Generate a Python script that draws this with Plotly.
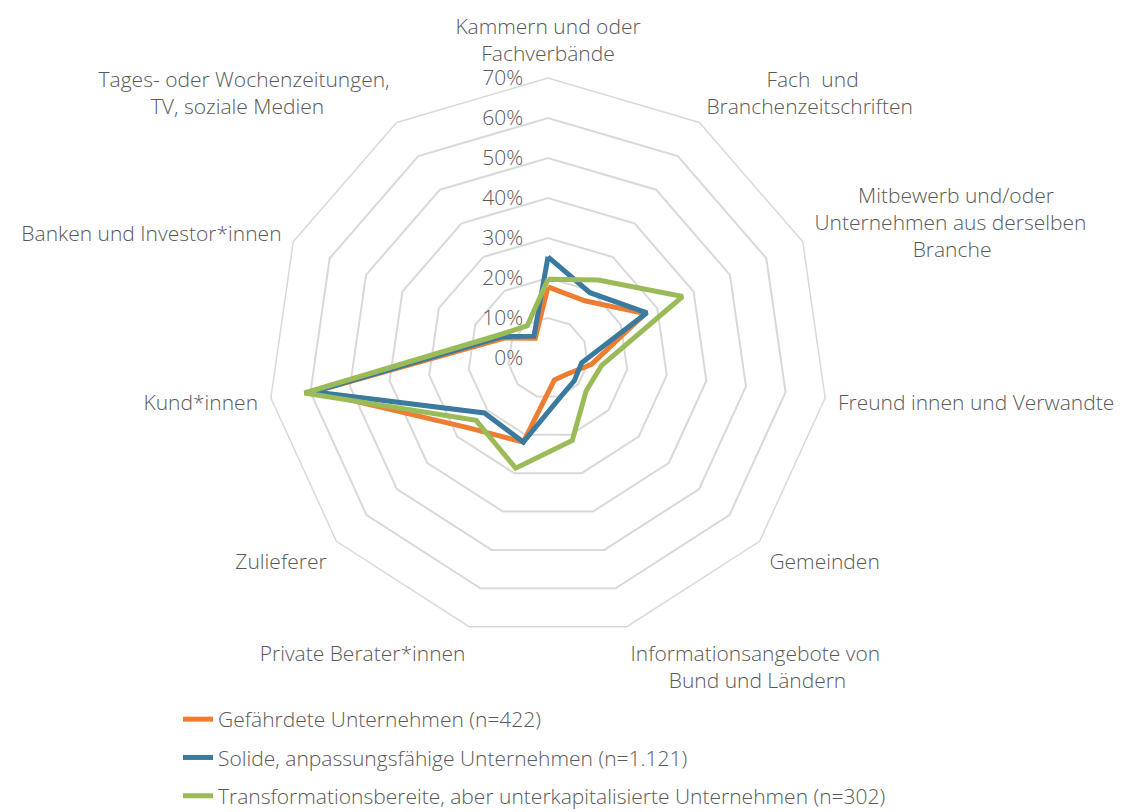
import plotly.graph_objects as go

NB = "\u00a0"  # non-breaking space used to centre the shorter line of a label

categories = [
    "Kammern und oder<br>Fachverbände",
    NB * 11 + "Fach  und<br>Branchenzeitschriften",
    NB * 8 + "Mitbewerb und/oder<br>Unternehmen aus derselben<br>" + NB * 18 + "Branche",
    "Freund innen und Verwandte",
    "Gemeinden",
    "Informationsangebote von<br>" + NB * 7 + "Bund und Ländern",
    "Private Berater*innen",
    "Zulieferer",
    "Kund*innen",
    "Banken und Investor*innen",
    "Tages- oder Wochenzeitungen,<br>TV, soziale Medien" + NB * 12,
]

gefaehrdet = [0.178, 0.170, 0.267, 0.110, 0.062, 0.057, 0.219, 0.266, 0.590, 0.120, 0.059]
solide = [0.253, 0.194, 0.272, 0.085, 0.087, 0.104, 0.219, 0.210, 0.593, 0.128, 0.065]
transformation = [0.197, 0.232, 0.370, 0.135, 0.126, 0.215, 0.287, 0.238, 0.615, 0.137, 0.096]

series_names = [
    "Gefährdete Unternehmen (n=422)",
    "Solide, anpassungsfähige Unternehmen (n=1.121)",
    "Transformationsbereite, aber unterkapitalisierte Unternehmen (n=302)",
]
series_values = [gefaehrdet, solide, transformation]
colors = ["#ED7D31", "#3A7A9E", "#9BBB59"]

tick_vals = [0, 0.1, 0.2, 0.3, 0.4, 0.5, 0.6, 0.7]
tick_text = ["0%", "10%", "20%", "30%", "40%", "50%", "60%", "70%"]

FONT = "Open Sans"
GRAY = "#595959"
FS = 21

fig = go.Figure()
for i, (name, vals, col) in enumerate(zip(series_names, series_values, colors)):
    fig.add_trace(go.Scatterpolar(
        r=vals + vals[:1],
        theta=categories + categories[:1],
        mode="lines",
        name=name,
        line=dict(color=col, width=5),
        legendgroup=str(i),
    ))

# page has an 8px body margin, so figure coords = page coords - 8
OFF = 8
W, H = 1126, 812
cx, cy, R = 548 - OFF, 358 - OFF, 280
fig.update_layout(
    width=W, height=H,
    margin=dict(l=0, r=0, t=0, b=0),
    paper_bgcolor="white",
    plot_bgcolor="white",
    font=dict(family=FONT, size=FS, color=GRAY, weight=300),
    polar=dict(
        domain=dict(x=[(cx - R) / W, (cx + R) / W],
                    y=[(H - cy - R) / H, (H - cy + R) / H]),
        bgcolor="white",
        gridshape="linear",
        radialaxis=dict(
            range=[0, 0.7],
            tickvals=tick_vals,
            ticktext=tick_text,
            angle=90,
            tickangle=90,
            side="counterclockwise",
            showline=False,
            gridcolor="#D9D9D9",
            gridwidth=1.5,
            ticks="outside",
            ticklen=17,
            tickcolor="rgba(0,0,0,0)",
            tickfont=dict(family=FONT, size=FS, color=GRAY, weight=300),
        ),
        angularaxis=dict(
            direction="clockwise",
            rotation=90,
            showgrid=False,
            showline=True,
            linecolor="#D9D9D9",
            linewidth=1.5,
            ticks="outside",
            ticklen=8,
            tickcolor="rgba(0,0,0,0)",
            tickfont=dict(family=FONT, size=FS, color=GRAY, weight=300),
        ),
    ),
    showlegend=True,
    legend=dict(
        orientation="v",
        x=(178 - OFF) / W, xanchor="left",
        y=(H - (699 - OFF)) / H, yanchor="top",
        tracegroupgap=8,
        font=dict(family=FONT, size=FS, color=GRAY, weight=300),
        bgcolor="rgba(0,0,0,0)",
    ),
)

fig.write_html("out.html")
